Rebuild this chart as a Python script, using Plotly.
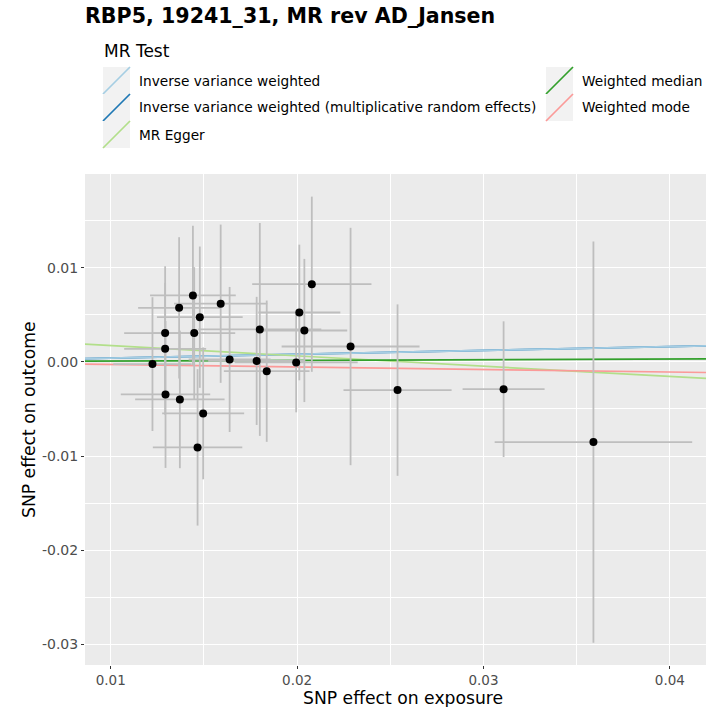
import plotly.graph_objects as go

# SNP-level estimates (exposure / outcome) and their standard errors
beta_exposure = [0.01224, 0.01292, 0.01292, 0.01294, 0.01367, 0.01371, 0.01441, 0.01448,
                 0.01478, 0.01466, 0.01496, 0.01590, 0.01638, 0.01783, 0.01800, 0.01837,
                 0.01995, 0.02012, 0.02039, 0.02079, 0.02287, 0.02539, 0.03108, 0.03590]
beta_outcome = [-0.00024, 0.00305, 0.00138, -0.00346, 0.00573, -0.00399, 0.00705, 0.00305,
                0.00474, -0.00908, -0.00547, 0.00617, 0.00025, 0.00010, 0.00344, -0.00099,
                -0.00006, 0.00524, 0.00333, 0.00824, 0.00163, -0.00300, -0.00290, -0.00852]
se_exposure = [0.0021, 0.0022, 0.0022, 0.0024, 0.0022, 0.0024, 0.0023, 0.0022,
               0.0023, 0.0024, 0.0022, 0.0025, 0.0022, 0.0026, 0.0033, 0.0023,
               0.0033, 0.0022, 0.0023, 0.0032, 0.0037, 0.0029, 0.0022, 0.0053]
se_outcome = [0.0071, 0.0071, 0.0070, 0.0078, 0.0075, 0.0073, 0.0074, 0.0070,
              0.0075, 0.0083, 0.0070, 0.0084, 0.0077, 0.0068, 0.0113, 0.0075,
              0.0053, 0.0072, 0.0076, 0.0093, 0.0126, 0.0091, 0.0072, 0.0213]

# MR method fits: intercept and slope of each regression line
methods = ["Inverse variance weighted",
           "Inverse variance weighted (multiplicative random effects)",
           "MR Egger", "Weighted median", "Weighted mode"]
intercepts = [0.0, 0.0, 0.00282, 0.0, 0.0]
slopes = [0.0406, 0.0406, -0.1093, 0.0077, -0.027]
colors = ["#A6CEE3", "#1F78B4", "#B2DF8A", "#33A02C", "#FB9A99"]

x_ticks = [0.01, 0.02, 0.03, 0.04]
y_ticks = [0.01, 0.0, -0.01, -0.02, -0.03]

X_RANGE = [0.00862, 0.04194]
Y_RANGE = [-0.03218, 0.01994]

FONT = "DejaVu Sans"
W, H = 706, 707
M_L, M_R, M_T, M_B = 85, 0, 174, 42
PW, PH = W - M_L - M_R, H - M_T - M_B


def px_x(px):
    return (px - M_L) / PW


def px_y(py):
    return (H - M_B - py) / PH


fig = go.Figure()

# regression lines across the full panel; the multiplicative-random-effects IVW
# line sits under the plain IVW line
draw_order = [1, 0, 2, 3, 4]
for i in draw_order:
    xs = X_RANGE
    ys = [intercepts[i] + slopes[i] * x for x in xs]
    fig.add_trace(go.Scatter(x=xs, y=ys, mode="lines",
                             line=dict(color=colors[i], width=1.7),
                             name=methods[i], showlegend=False, hoverinfo="skip"))

# SNP points with crossing error bars
fig.add_trace(go.Scatter(
    x=beta_exposure, y=beta_outcome, mode="markers",
    marker=dict(color="black", size=8),
    error_x=dict(type="data", array=se_exposure, visible=True, width=0,
                 thickness=1.8, color="#BEBEBE"),
    error_y=dict(type="data", array=se_outcome, visible=True, width=0,
                 thickness=1.8, color="#BEBEBE"),
    showlegend=False, name="SNPs"))

# ggplot-style legend: grey key squares with a diagonal line, two columns
shapes = []
annotations = []
key_size = 27
rows_y = [67, 94, 121]
col_x = [103, 546]
for i, name in enumerate(methods):
    col = 0 if i < 3 else 1
    row = i if i < 3 else i - 3
    x0 = col_x[col]
    y0 = rows_y[row]
    shapes.append(dict(type="rect", xref="paper", yref="paper",
                       x0=px_x(x0), x1=px_x(x0 + key_size),
                       y0=px_y(y0 + key_size), y1=px_y(y0),
                       fillcolor="#F2F2F2", line=dict(width=0), layer="above"))
    shapes.append(dict(type="line", xref="paper", yref="paper",
                       x0=px_x(x0), x1=px_x(x0 + key_size),
                       y0=px_y(y0 + key_size), y1=px_y(y0),
                       line=dict(color=colors[i], width=1.7), layer="above"))
    annotations.append(dict(text=name, xref="paper", yref="paper",
                            x=px_x(x0 + key_size + 7), y=px_y(y0 + key_size / 2),
                            xanchor="left", yanchor="middle", showarrow=False,
                            font=dict(family=FONT, size=13.7, color="black")))

annotations.append(dict(text="MR Test", xref="paper", yref="paper",
                        x=px_x(102), y=px_y(51), xanchor="left", yanchor="middle",
                        showarrow=False, font=dict(family=FONT, size=17, color="black")))

# axis titles
annotations.append(dict(text="SNP effect on exposure", xref="paper", yref="paper",
                        x=px_x(403), y=px_y(697.5), xanchor="center", yanchor="middle",
                        showarrow=False, font=dict(family=FONT, size=17.2, color="black")))
annotations.append(dict(text="SNP effect on outcome", xref="paper", yref="paper",
                        x=px_x(29), y=px_y(420), xanchor="center", yanchor="middle",
                        textangle=-90, showarrow=False,
                        font=dict(family=FONT, size=17.2, color="black")))

fig.update_layout(
    width=W, height=H,
    margin=dict(l=M_L, r=M_R, t=M_T, b=M_B),
    paper_bgcolor="white", plot_bgcolor="#EBEBEB",
    font=dict(family=FONT),
    title=dict(text="<b>RBP5, 19241_31, MR rev AD_Jansen</b>",
               x=0, xref="paper", xanchor="left",
               y=1 - 15.5 / H, yref="container", yanchor="middle",
               font=dict(family=FONT, size=20.6, color="black")),
    shapes=shapes, annotations=annotations,
    showlegend=False,
)

axis_style = dict(showgrid=True, gridcolor="white", gridwidth=1.1,
                  minor=dict(dtick=0.005, tick0=0, showgrid=True, gridcolor="white",
                             gridwidth=0.5, ticks=""),
                  zeroline=False, ticks="outside", ticklen=3, tickcolor="#333333",
                  tickwidth=1, tickfont=dict(family=FONT, size=14, color="#4D4D4D"),
                  showline=False)
fig.update_xaxes(range=X_RANGE, tickvals=x_ticks,
                 ticktext=[f"{v:.2f}" for v in x_ticks], **axis_style)
fig.update_yaxes(range=Y_RANGE, tickvals=y_ticks,
                 ticktext=[f"{v:.2f}" for v in y_ticks], **axis_style)
fig.update_xaxes(tickfont_size=13.5)

fig.write_html("out.html")
